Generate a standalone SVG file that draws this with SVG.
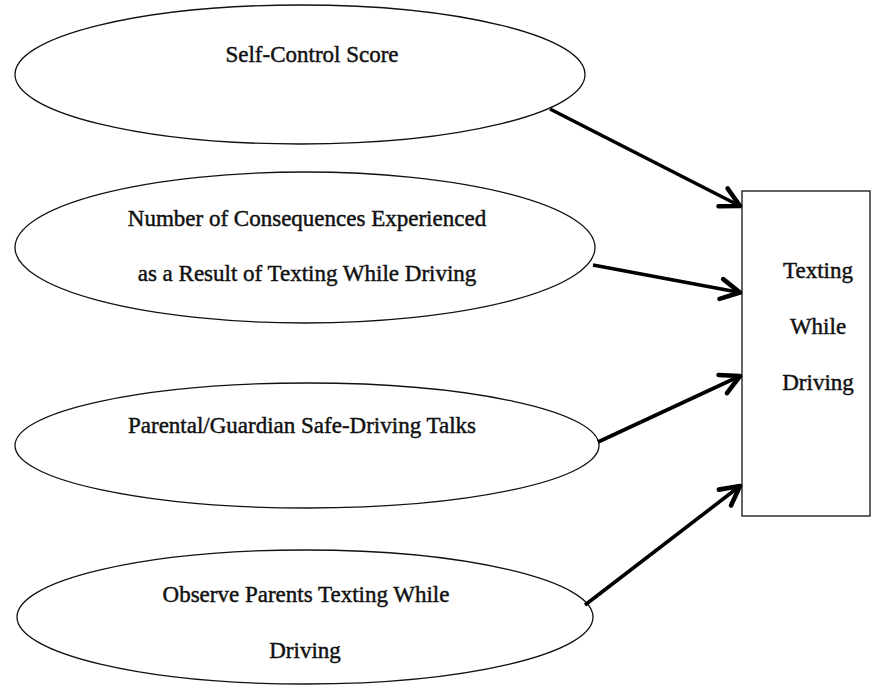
<svg xmlns="http://www.w3.org/2000/svg" width="880" height="689" viewBox="0 0 880 689">
<style>
.node { fill: #ffffff; stroke: #111111; stroke-width: 1.3; }
.lbl { font-family: "Liberation Serif", "Times New Roman", serif; font-size: 23px; fill: #111111; stroke: #111111; stroke-width: 0.45; text-anchor: middle; }
.edge { stroke: #000000; stroke-width: 3.6; fill: none; }
</style>
<defs>
<marker id="arr" markerUnits="userSpaceOnUse" viewBox="-24 -14 28 28" refX="0" refY="0" markerWidth="28" markerHeight="28" orient="auto">
<path d="M-19,-10 L0,0 L-19,10" fill="none" stroke="#000" stroke-width="4.6" stroke-linejoin="round" stroke-linecap="round"/>
</marker>
</defs>
<rect width="880" height="689" fill="#ffffff"/>
<g id="self-control">
<ellipse class="node" cx="300" cy="74.5" rx="285" ry="69.5"/>
<text class="lbl" x="312" y="62">Self-Control Score</text>
</g>
<g id="consequences">
<ellipse class="node" cx="305" cy="247.5" rx="290" ry="75.5"/>
<text class="lbl" x="307" y="226">Number of Consequences Experienced</text>
<text class="lbl" x="307" y="281">as a Result of Texting While Driving</text>
</g>
<g id="parental-talks">
<ellipse class="node" cx="307" cy="445.5" rx="292" ry="62.5"/>
<text class="lbl" x="302" y="433">Parental/Guardian Safe-Driving Talks</text>
</g>
<g id="observe-parents">
<ellipse class="node" cx="305" cy="617" rx="288" ry="67"/>
<text class="lbl" x="306" y="602">Observe Parents Texting While</text>
<text class="lbl" x="305" y="658">Driving</text>
</g>
<g id="texting-while-driving">
<rect class="node" x="742" y="191" width="128" height="325" stroke-width="1.6"/>
<text class="lbl" x="818" y="278">Texting</text>
<text class="lbl" x="818" y="334">While</text>
<text class="lbl" x="818" y="390">Driving</text>
</g>
<g id="connectors">
<line class="edge" x1="550" y1="109" x2="740" y2="206" marker-end="url(#arr)"/>
<line class="edge" x1="593" y1="265" x2="740" y2="292.5" marker-end="url(#arr)"/>
<line class="edge" x1="598" y1="442" x2="740" y2="376" marker-end="url(#arr)"/>
<line class="edge" x1="585" y1="605" x2="740" y2="486" marker-end="url(#arr)"/>
</g>
</svg>
